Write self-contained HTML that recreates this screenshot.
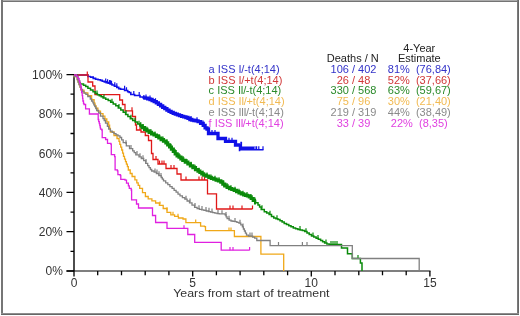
<!DOCTYPE html>
<html><head><meta charset="utf-8"><style>
html,body{margin:0;padding:0;background:#fff;}
body{width:520px;height:316px;overflow:hidden;position:relative;}
svg{position:absolute;left:0;top:0;filter:blur(0.4px);}
text{font-family:"Liberation Sans",sans-serif;}
.ax{font-size:12px;fill:#333;}
.lg{font-size:11px;}
.hd{fill:#222;}
</style></head><body>
<svg width="520" height="316" viewBox="0 0 520 316">
<rect x="0" y="0" width="520" height="316" fill="#fff"/>
<rect x="1" y="0" width="518" height="1" fill="#ababab"/><rect x="1" y="1" width="518" height="1" fill="#747474"/><rect x="1" y="0" width="2" height="315" fill="#767676"/><rect x="517" y="0" width="1" height="315" fill="#7a7a7a"/><rect x="518" y="0" width="1" height="315" fill="#686868"/><rect x="1" y="313" width="518" height="1" fill="#8e8e8e"/><rect x="1" y="314" width="518" height="1" fill="#676767"/>
<defs><clipPath id="c0"><rect x="143" y="0" width="97.30000000000001" height="316"/></clipPath><clipPath id="c1"><rect x="240.3" y="0" width="13.699999999999989" height="316"/></clipPath><clipPath id="c2"><rect x="140" y="0" width="116" height="316"/></clipPath></defs>
<path d="M74,74.6V271" stroke="#000" stroke-width="1.4"/>
<path d="M66.5,271.0H74M70.5,251.4H74M66.5,231.7H74M70.5,212.1H74M66.5,192.4H74M70.5,172.8H74M66.5,153.2H74M70.5,133.5H74M66.5,113.9H74M70.5,94.2H74M66.5,74.6H74" stroke="#000" stroke-width="1.3"/>
<path d="M66.5,271H430.5" stroke="#000" stroke-width="1.2"/>
<path d="M74.0,271V276.5M97.7,271V275.2M121.5,271V275.2M145.2,271V275.2M168.9,271V275.2M192.7,271V276.5M216.4,271V275.2M240.1,271V275.2M263.8,271V275.2M287.6,271V275.2M311.3,271V276.5M335.0,271V275.2M358.8,271V275.2M382.5,271V275.2M406.2,271V275.2M429.9,271V276.5" stroke="#000" stroke-width="1.3"/>
<path d="M74.0,75.0H88.0V76.5V76.5H90.8V76.4V77.1H93.2V77.8V78.4H95.6V79.1V79.3H98.0V79.6V79.8H100.4V80.1V80.4H102.3V80.8V81.2H104.3V81.5V81.9H106.2V82.2V82.6H108.2V83.0V83.3H110.1V83.7V84.0H112.0V84.4V85.0H114.4V85.6V86.2H116.8V86.8V87.4H118.7V88.0V88.6H120.6V89.2H124.6V89.8V90.5H127.7V91.2V91.8H129.2V92.5H130.8V94.5H134.6V95.5H140.0V96.5V97.0H143.0V97.5V97.8H145.3V98.0V98.2H147.7V98.5V98.8H150.0V99.0V99.5H152.1V100.1V100.6H154.2V101.1V101.7H156.3V102.2V102.9H158.4V103.7V104.4H160.6V105.1V105.9H162.7V106.6V107.3H164.8V108.0V108.7H166.9V109.4V110.1H169.0V110.8V111.3H171.1V111.8V112.3H173.2V112.8V113.3H175.3V113.8V114.2H177.4V114.5V114.9H179.5V115.3V115.6H181.6V116.0V116.3H183.7V116.6V116.9H185.9V117.2V117.5H188.0V117.8V118.3H189.9V118.9V119.5H191.8V120.0V120.2H193.9V120.3V120.5H196.0V120.6V120.8H198.1V120.9V121.7H200.6V122.5V123.3H203.2V124.1V125.3H205.1V126.5V127.8H207.0V129.0H208.5V133.5H218.0V138.5H225.5V141.3H235.5V145.0H240.4V149.7H263.5" stroke="#1010e8" stroke-width="1.6" fill="none"/>
<path d="M74.0,75.0H88.0V76.5V76.5H90.8V76.4V77.1H93.2V77.8V78.4H95.6V79.1V79.3H98.0V79.6V79.8H100.4V80.1V80.4H102.3V80.8V81.2H104.3V81.5V81.9H106.2V82.2V82.6H108.2V83.0V83.3H110.1V83.7V84.0H112.0V84.4V85.0H114.4V85.6V86.2H116.8V86.8V87.4H118.7V88.0V88.6H120.6V89.2H124.6V89.8V90.5H127.7V91.2V91.8H129.2V92.5H130.8V94.5H134.6V95.5H140.0V96.5V97.0H143.0V97.5V97.8H145.3V98.0V98.2H147.7V98.5V98.8H150.0V99.0V99.5H152.1V100.1V100.6H154.2V101.1V101.7H156.3V102.2V102.9H158.4V103.7V104.4H160.6V105.1V105.9H162.7V106.6V107.3H164.8V108.0V108.7H166.9V109.4V110.1H169.0V110.8V111.3H171.1V111.8V112.3H173.2V112.8V113.3H175.3V113.8V114.2H177.4V114.5V114.9H179.5V115.3V115.6H181.6V116.0V116.3H183.7V116.6V116.9H185.9V117.2V117.5H188.0V117.8V118.3H189.9V118.9V119.5H191.8V120.0V120.2H193.9V120.3V120.5H196.0V120.6V120.8H198.1V120.9V121.7H200.6V122.5V123.3H203.2V124.1V125.3H205.1V126.5V127.8H207.0V129.0H208.5V133.5H218.0V138.5H225.5V141.3H235.5V145.0H240.4V149.7H263.5" stroke="#1010e8" stroke-width="3.3" fill="none" clip-path="url(#c0)" transform="translate(0,0)"/>
<path d="M74.0,75.0H88.0V76.5V76.5H90.8V76.4V77.1H93.2V77.8V78.4H95.6V79.1V79.3H98.0V79.6V79.8H100.4V80.1V80.4H102.3V80.8V81.2H104.3V81.5V81.9H106.2V82.2V82.6H108.2V83.0V83.3H110.1V83.7V84.0H112.0V84.4V85.0H114.4V85.6V86.2H116.8V86.8V87.4H118.7V88.0V88.6H120.6V89.2H124.6V89.8V90.5H127.7V91.2V91.8H129.2V92.5H130.8V94.5H134.6V95.5H140.0V96.5V97.0H143.0V97.5V97.8H145.3V98.0V98.2H147.7V98.5V98.8H150.0V99.0V99.5H152.1V100.1V100.6H154.2V101.1V101.7H156.3V102.2V102.9H158.4V103.7V104.4H160.6V105.1V105.9H162.7V106.6V107.3H164.8V108.0V108.7H166.9V109.4V110.1H169.0V110.8V111.3H171.1V111.8V112.3H173.2V112.8V113.3H175.3V113.8V114.2H177.4V114.5V114.9H179.5V115.3V115.6H181.6V116.0V116.3H183.7V116.6V116.9H185.9V117.2V117.5H188.0V117.8V118.3H189.9V118.9V119.5H191.8V120.0V120.2H193.9V120.3V120.5H196.0V120.6V120.8H198.1V120.9V121.7H200.6V122.5V123.3H203.2V124.1V125.3H205.1V126.5V127.8H207.0V129.0H208.5V133.5H218.0V138.5H225.5V141.3H235.5V145.0H240.4V149.7H263.5" stroke="#1010e8" stroke-width="3.4" fill="none" clip-path="url(#c1)" transform="translate(0,-1.6)"/>
<path d="M105.7,82.0v-3.5M107.6,82.7v-3.5M109.6,83.5v-3.5M110.5,83.8v-3.5M111.5,84.2v-3.5M114.8,85.8v-3.5M116.8,86.8v-3.5M124.6,89.2v-3.5M126.5,90.7v-3.5M133.8,94.5v-3.5M139.2,95.5v-3.5M146.0,98.1v-3.5M150.0,99.0v-3.5M155.5,101.8v-3.5M191.0,119.5v-3.5M197.0,120.7v-3.5M203.0,124.0v-3.5M212.0,133.5v-3.5M215.0,133.5v-3.5M229.0,141.3v-3.5M232.0,141.3v-3.5M255.0,149.7v-3.5M256.6,149.7v-3.5M258.8,149.7v-3.5M263.0,149.7v-3.5" stroke="#1010e8" stroke-width="1.2" fill="none"/>
<path d="M74.0,75.0H88.0V82.0H92.7V86.0H95.0V94.6H119.7V100.0H122.5V104.5H125.0V110.8H132.5V116.5H135.5V125.0H136.5V130.0H141.0V132.0H145.3V135.5H148.5V140.5H151.5V153.5H153.0V159.5H158.0V164.0H166.0V168.5H177.0V174.0H181.0V180.0H207.5V193.8H216.5V209.0H252.5" stroke="#e01818" stroke-width="1.3" fill="none"/>
<path d="M87.3,75.0v-3.5M132.0,110.8v-3.5M140.0,130.0v-3.5M156.0,159.5v-3.5M159.5,164.0v-3.5M162.0,164.0v-3.5M164.0,164.0v-3.5M171.0,168.5v-3.5M174.0,168.5v-3.5M186.0,180.0v-3.5M199.0,180.0v-3.5M202.0,180.0v-3.5M204.5,180.0v-3.5M230.0,209.0v-3.5M233.0,209.0v-3.5M242.0,209.0v-3.5M252.5,209.0v-3.5" stroke="#e01818" stroke-width="1.2" fill="none"/>
<path d="M74.0,75.0H77.0V76.2H77.8V77.5V78.8H78.5V80.0V80.8H79.4V81.7V82.6H80.3V83.4V84.1H83.5V84.7V85.3H85.7V86.0V86.6H87.9V87.2V88.2H90.5V89.1V90.0H93.0V91.0V91.8H95.2V92.6V93.4H97.4V94.2V94.7H99.3V95.2V95.8H101.2V96.3V96.8H103.1V97.3V97.9H105.7V98.5V99.2H108.2V99.8V100.6H110.7V101.4V102.2H113.2V103.0V104.0H115.8V104.9V105.8H118.3V106.8V107.9H120.8V108.9V110.0H123.2V111.1V112.2H125.6V113.3V114.4H127.9V115.5V116.6H130.3V117.7V118.7H132.7V119.8V120.6H135.1V121.3V122.1H137.4V122.9V123.9H139.8V124.9V125.9H142.2V126.9V127.7H144.6V128.5V129.3H146.9V130.1V130.9H149.2V131.6V132.4H151.6V133.2V133.8H154.0V134.4V135.0H156.4V135.6V136.4H158.8V137.2V138.0H161.1V138.8V139.6H163.5V140.3V141.1H165.9V141.8V142.8H167.7V143.9V144.9H169.6V145.9V147.0H171.4V148.0V149.2H173.3V150.3V151.5H175.2V152.7V153.8H177.1V155.0V155.8H179.0V156.5V157.2H180.9V158.0V158.8H182.8V159.5V160.4H185.3V161.3V162.2H187.9V163.0V163.9H190.4V164.8V165.8H192.9V166.7V167.7H195.5V168.6V169.6H198.0V170.5V171.2H199.9V171.8V172.5H201.8V173.2V173.8H203.7V174.5V175.1H206.2V175.7V176.2H208.8V176.8V177.4H211.3V178.0V178.4H213.7V178.8V179.2H216.1V179.7V180.1H218.4V180.5V180.9H220.8V181.3V182.2H222.8V183.2V184.1H224.7V185.0V185.8H227.1V186.6V187.4H229.5V188.2V188.6H231.8V189.0V189.4H234.2V189.8V190.4H236.6V191.0V191.6H239.0V192.2V192.8H241.3V193.3V193.9H243.7V194.5V194.8H245.6V195.0V195.3H247.4V195.6V195.8H249.3V196.1V196.9H251.2V197.7V198.5H253.2V199.3V200.5H255.6V201.7V202.8H258.0V204.0V205.0H259.6V206.0V207.0H261.2V208.0V209.6H264.3V211.2V211.8H266.7V212.3V212.9H269.1V213.5V214.5H271.5V215.5V216.5H273.8V217.5V217.9H275.9V218.3V218.8H277.9V219.2V219.6H280.0V220.0V220.7H282.1V221.4V222.1H284.2V222.8V223.4H286.5V223.9V224.5H288.8V225.1V225.7H291.0V226.2V226.8H293.3V227.4V227.9H295.6V228.5V228.8H297.9V229.1V229.4H300.1V229.7V229.9H302.4V230.2V230.5H304.7V230.8V231.6H307.0V232.3V233.1H309.2V233.8V234.6H311.5V235.3V235.9H313.8V236.5V237.0H316.1V237.6V238.2H318.3V238.8V239.3H320.6V239.9V240.5H322.6V241.1V241.7H324.6V242.3V242.9H326.9V243.4V244.0H329.2V244.6H341.5V248.0H347.5V253.8H352.3V258.5H360.4V263.0H362.0V271.0" stroke="#0a8a0a" stroke-width="1.5" fill="none"/>
<path d="M74.0,75.0H77.0V76.2H77.8V77.5V78.8H78.5V80.0V80.8H79.4V81.7V82.6H80.3V83.4V84.1H83.5V84.7V85.3H85.7V86.0V86.6H87.9V87.2V88.2H90.5V89.1V90.0H93.0V91.0V91.8H95.2V92.6V93.4H97.4V94.2V94.7H99.3V95.2V95.8H101.2V96.3V96.8H103.1V97.3V97.9H105.7V98.5V99.2H108.2V99.8V100.6H110.7V101.4V102.2H113.2V103.0V104.0H115.8V104.9V105.8H118.3V106.8V107.9H120.8V108.9V110.0H123.2V111.1V112.2H125.6V113.3V114.4H127.9V115.5V116.6H130.3V117.7V118.7H132.7V119.8V120.6H135.1V121.3V122.1H137.4V122.9V123.9H139.8V124.9V125.9H142.2V126.9V127.7H144.6V128.5V129.3H146.9V130.1V130.9H149.2V131.6V132.4H151.6V133.2V133.8H154.0V134.4V135.0H156.4V135.6V136.4H158.8V137.2V138.0H161.1V138.8V139.6H163.5V140.3V141.1H165.9V141.8V142.8H167.7V143.9V144.9H169.6V145.9V147.0H171.4V148.0V149.2H173.3V150.3V151.5H175.2V152.7V153.8H177.1V155.0V155.8H179.0V156.5V157.2H180.9V158.0V158.8H182.8V159.5V160.4H185.3V161.3V162.2H187.9V163.0V163.9H190.4V164.8V165.8H192.9V166.7V167.7H195.5V168.6V169.6H198.0V170.5V171.2H199.9V171.8V172.5H201.8V173.2V173.8H203.7V174.5V175.1H206.2V175.7V176.2H208.8V176.8V177.4H211.3V178.0V178.4H213.7V178.8V179.2H216.1V179.7V180.1H218.4V180.5V180.9H220.8V181.3V182.2H222.8V183.2V184.1H224.7V185.0V185.8H227.1V186.6V187.4H229.5V188.2V188.6H231.8V189.0V189.4H234.2V189.8V190.4H236.6V191.0V191.6H239.0V192.2V192.8H241.3V193.3V193.9H243.7V194.5V194.8H245.6V195.0V195.3H247.4V195.6V195.8H249.3V196.1V196.9H251.2V197.7V198.5H253.2V199.3V200.5H255.6V201.7V202.8H258.0V204.0V205.0H259.6V206.0V207.0H261.2V208.0V209.6H264.3V211.2V211.8H266.7V212.3V212.9H269.1V213.5V214.5H271.5V215.5V216.5H273.8V217.5V217.9H275.9V218.3V218.8H277.9V219.2V219.6H280.0V220.0V220.7H282.1V221.4V222.1H284.2V222.8V223.4H286.5V223.9V224.5H288.8V225.1V225.7H291.0V226.2V226.8H293.3V227.4V227.9H295.6V228.5V228.8H297.9V229.1V229.4H300.1V229.7V229.9H302.4V230.2V230.5H304.7V230.8V231.6H307.0V232.3V233.1H309.2V233.8V234.6H311.5V235.3V235.9H313.8V236.5V237.0H316.1V237.6V238.2H318.3V238.8V239.3H320.6V239.9V240.5H322.6V241.1V241.7H324.6V242.3V242.9H326.9V243.4V244.0H329.2V244.6H341.5V248.0H347.5V253.8H352.3V258.5H360.4V263.0H362.0V271.0" stroke="#0a8a0a" stroke-width="3.2" fill="none" clip-path="url(#c2)" transform="translate(0,0)"/>
<path d="M97.0,93.9v-3.5M104.0,97.7v-3.5M112.0,102.2v-3.5M119.0,107.4v-3.5M126.0,113.7v-3.5M131.0,118.3v-3.5M135.0,121.3v-3.5M139.0,124.2v-3.5M143.0,127.4v-3.5M147.0,130.2v-3.5M151.0,132.8v-3.5M155.0,134.9v-3.5M159.0,137.4v-3.5M163.0,140.0v-3.5M167.0,143.0v-3.5M171.0,147.5v-3.5M175.0,152.4v-3.5M179.0,156.5v-3.5M183.0,159.6v-3.5M187.0,162.4v-3.5M191.0,165.2v-3.5M195.0,168.2v-3.5M199.0,171.2v-3.5M203.0,174.0v-3.5M207.0,176.0v-3.5M211.0,177.9v-3.5M215.0,179.3v-3.5M219.0,180.7v-3.5M223.0,183.4v-3.5M227.0,186.5v-3.5M231.0,188.7v-3.5M235.0,190.2v-3.5M239.0,192.2v-3.5M243.0,194.2v-3.5M247.0,195.4v-3.5M251.0,197.5v-3.5M255.0,201.1v-3.5M262.0,208.8v-3.5M270.0,214.3v-3.5M277.0,218.8v-3.5M300.0,229.6v-3.5M306.0,231.7v-3.5M313.0,236.1v-3.5M318.0,238.6v-3.5M326.0,243.0v-3.5M331.0,244.6v-3.5M333.0,244.6v-3.5M335.0,244.6v-3.5M337.0,244.6v-3.5M358.0,258.5v-3.5" stroke="#0a8a0a" stroke-width="1.2" fill="none"/>
<path d="M74.0,75.0V76.7H77.2V78.3V79.6H78.1V80.8V82.1H79.0V83.4V84.7H80.0V86.0V87.2H81.0V88.5V90.2H84.0V91.8V92.8H87.8V93.7V95.6H91.6V97.5V99.7H94.1V101.9V103.2H95.0V104.5V105.7H96.0V107.0V108.2H97.9V109.5V111.1H100.5V112.7V113.7H103.0V114.6V116.2H104.9V117.7V119.0H106.8V120.3V121.8H108.7V123.4V125.1H109.6V126.7V128.3H110.4V130.0V132.0H114.0V134.0V135.5H117.0V137.0V138.5H119.0V140.0V141.4H119.8V142.8V144.3H120.7V145.7V147.1H121.7V148.6V150.0H122.6V151.4V153.1H123.5V154.7V156.3H124.5V158.0V159.2H125.5V160.4V161.6H126.4V162.8V164.1H127.4V165.4V166.7H128.3V168.0V170.0H130.2V172.0V173.5H132.1V175.0V176.5H134.9V178.0V179.8H136.8V181.7V182.9H138.2V184.1V185.3H139.7V186.5V188.4H142.5V190.3V192.7H145.4V195.0V196.5H148.2V198.0V198.9H151.9V199.9V200.9H155.6V201.8V203.0H159.4V204.2V205.4H163.2V206.6V208.5H167.0V210.4V212.3H170.8V214.2V214.9H174.6V215.6V216.3H178.4V217.0V218.0H183.0V219.0H185.9V222.7H200.6V225.7V226.2H204.5V226.7H205.5V230.6H234.4V236.5H260.9V254.2H283.7V271.0" stroke="#f0a818" stroke-width="1.3" fill="none"/>
<path d="M160.0,204.6v-3.2M167.0,210.4v-3.2M173.0,215.0v-3.2M178.0,216.9v-3.2M195.7,222.7v-3.2M229.0,230.6v-3.2M231.0,230.6v-3.2" stroke="#f0a818" stroke-width="1.2" fill="none"/>
<path d="M74.0,75.0V76.7H77.2V78.3V79.6H78.1V80.8V82.1H79.0V83.4V84.7H80.0V86.0V87.2H81.0V88.5V89.5H82.5V90.5V91.4H84.0V92.4V93.1H85.9V93.7V94.3H87.8V95.0V96.5H90.3V98.1V99.0H91.6V100.0V101.0H92.9V101.9V102.9H93.8V103.8V104.8H94.8V105.7V106.7H95.8V107.6V108.5H96.7V109.5V110.5H98.6V111.4V113.0H100.5V114.6V116.2H103.0V117.7V118.7H104.2V119.6V120.5H105.5V121.5V123.1H107.4V124.7V126.3H108.7V128.0V129.2H110.4V130.4V131.1H112.2V131.7V132.3H114.0V133.0V133.6H116.0V134.2V134.9H118.0V135.5V135.9H120.0V136.3V137.5H121.6V138.7V139.9H123.2V141.1V142.6H126.3V144.2V145.8H129.5V147.4V148.6H132.7V149.8V150.8H134.2V151.8V152.7H135.8V153.7V154.9H139.0V156.1V156.9H141.3V157.7V158.5H143.7V159.3V160.7H145.7V162.1V163.4H147.7V164.8V165.7H149.0V166.7V167.6H150.4V168.5V169.5H151.7V170.4V171.0H154.1V171.6V172.1H156.4V172.7V173.7H158.8V174.7V175.7H161.2V176.7V177.5H162.3V178.3V179.2H163.5V180.0V180.9H165.7V181.9V182.8H167.8V183.8V184.7H169.9V185.6V186.6H172.1V187.5V188.4H174.1V189.4V190.3H176.1V191.2V192.2H178.0V193.1V194.1H180.0V195.0V195.8H182.4V196.7V197.6H184.8V198.4V199.2H187.1V200.1V201.0H189.5V201.8V202.9H192.0V204.0V205.1H194.6V206.2V207.3H197.1V208.4V208.7H199.4V209.0V209.3H201.7V209.6V209.9H203.9V210.1V210.4H206.2V210.7V211.0H208.5V211.3V211.6H210.6V211.8V212.1H212.8V212.3V212.6H214.9V212.9V213.1H217.1V213.4V213.6H219.2V213.9V213.9H221.2V213.9V213.9H223.1V213.9V213.9H225.1V213.9V214.9H226.1V215.9V216.8H227.1V217.8V218.6H229.1V219.3V220.1H231.0V220.8V221.0H233.0V221.1V221.3H234.9V221.5V221.6H236.9V221.8V222.3H238.9V222.8V223.2H240.8V223.7V224.8H242.4V225.9V226.9H243.4V227.9V229.0H244.4V230.0V231.0H245.4V232.1V233.1H246.5V234.1V235.1H248.5V236.2H252.6V237.2H254.7V238.2H256.8V240.5H270.1V245.6H352.3V258.5H419.2V271.0" stroke="#808080" stroke-width="1.3" fill="none"/>
<path d="M126.0,143.9v-3.6M131.0,148.5v-3.6M137.0,154.6v-3.6M140.0,156.8v-3.6M143.0,158.8v-3.6M146.0,162.5v-3.6M155.0,172.0v-3.6M157.0,173.2v-3.6M159.0,174.9v-3.6M161.0,176.5v-3.6M186.0,199.3v-3.6M190.0,202.2v-3.6M195.0,206.6v-3.6M199.0,208.9v-3.6M202.0,209.6v-3.6M206.0,210.7v-3.6M209.0,211.4v-3.6M212.0,212.2v-3.6M218.0,213.6v-3.6M222.0,213.9v-3.6M226.0,215.7v-3.6M229.0,219.3v-3.6M235.0,221.5v-3.6M240.0,223.3v-3.6M243.0,227.1v-3.6M250.0,236.2v-3.6M252.0,236.2v-3.6M278.5,245.6v-3.6M302.4,245.6v-3.6M307.0,245.6v-3.6" stroke="#808080" stroke-width="1.2" fill="none"/>
<path d="M74.0,75.0H76.5V76.2H77.8V77.3V78.4H79.0V79.6V80.7H79.7V81.7V82.8H80.3V83.8V84.8H81.0V85.9V87.2H81.3V88.5V89.7H81.6V91.0V92.6H82.2V94.2V95.6H82.6V97.0V98.4H82.9V99.8V101.0H83.5V102.2V103.3H84.0V104.5H85.6V108.9H89.4V114.0H98.2V118.4V119.5H98.7V120.5V121.6H99.3V122.6V123.7H99.8V124.7V125.7H100.2V126.6V127.5H100.5V128.5V129.2H101.8V130.0H102.2V137.6H105.6V139.5H107.5V143.3H110.8V144.2H111.3V154.7H114.6V156.6H115.1V169.8H117.4V170.8H117.9V174.6H120.3V175.5H120.8V179.3H125.0V180.2H126.5V183.1H128.4V185.0V185.9H129.3V186.9V188.4H131.2V190.0H131.6V199.9H136.5V204.0H138.5V208.0H152.5V215.5H155.6V222.5H167.0V228.4H187.8V234.5H194.7V242.4H221.2V250.2H249.6" stroke="#e020e0" stroke-width="1.3" fill="none"/>
<path d="M184.0,228.4v-3.2M230.0,250.2v-3.2M233.0,250.2v-3.2M249.6,250.2v-3.2" stroke="#e020e0" stroke-width="1.2" fill="none"/>
<text x="62.8" y="275.3" text-anchor="end" class="ax">0%</text>
<text x="62.8" y="236.0" text-anchor="end" class="ax">20%</text>
<text x="62.8" y="196.7" text-anchor="end" class="ax">40%</text>
<text x="62.8" y="157.5" text-anchor="end" class="ax">60%</text>
<text x="62.8" y="118.2" text-anchor="end" class="ax">80%</text>
<text x="62.8" y="78.9" text-anchor="end" class="ax">100%</text>
<text x="74.0" y="287.2" text-anchor="middle" class="ax">0</text>
<text x="192.7" y="287.2" text-anchor="middle" class="ax">5</text>
<text x="311.3" y="287.2" text-anchor="middle" class="ax">10</text>
<text x="429.9" y="287.2" text-anchor="middle" class="ax">15</text>
<text x="173.2" y="296.7" class="ax" style="font-size:11.4px" textLength="156.3" lengthAdjust="spacingAndGlyphs">Years from start of treatment</text>
<text x="419.3" y="51.6" text-anchor="middle" class="lg hd">4-Year</text>
<text x="352.8" y="62.3" text-anchor="middle" class="lg hd">Deaths / N</text>
<text x="419.3" y="62.3" text-anchor="middle" class="lg hd">Estimate</text>
<text x="208.6" y="73.0" fill="#3232c8" class="lg">a ISS <tspan letter-spacing="-0.25">I/</tspan>-t(4;14)</text>
<text x="353.5" y="73.0" fill="#3232c8" text-anchor="middle" class="lg">106 / 402</text>
<text x="419.3" y="73.0" fill="#3232c8" text-anchor="middle" class="lg" xml:space="preserve" style="white-space:pre">81%  (76,84)</text>
<text x="208.6" y="83.7" fill="#d03838" class="lg">b ISS <tspan letter-spacing="-0.25">I/</tspan>+t(4;14)</text>
<text x="353.5" y="83.7" fill="#d03838" text-anchor="middle" class="lg">26 / 48</text>
<text x="419.3" y="83.7" fill="#d03838" text-anchor="middle" class="lg" xml:space="preserve" style="white-space:pre">52%  (37,66)</text>
<text x="208.6" y="94.4" fill="#2a8a2a" class="lg">c ISS <tspan letter-spacing="-0.45">II/</tspan>-t(4;14)</text>
<text x="353.5" y="94.4" fill="#2a8a2a" text-anchor="middle" class="lg">330 / 568</text>
<text x="419.3" y="94.4" fill="#2a8a2a" text-anchor="middle" class="lg" xml:space="preserve" style="white-space:pre">63%  (59,67)</text>
<text x="208.6" y="105.1" fill="#f2ba52" class="lg">d ISS <tspan letter-spacing="-0.45">II/</tspan>+t(4;14)</text>
<text x="353.5" y="105.1" fill="#f2ba52" text-anchor="middle" class="lg">75 / 96</text>
<text x="419.3" y="105.1" fill="#f2ba52" text-anchor="middle" class="lg" xml:space="preserve" style="white-space:pre">30%  (21,40)</text>
<text x="208.6" y="115.8" fill="#8a8a8a" class="lg">e ISS <tspan letter-spacing="-0.6">III/</tspan>-t(4;14)</text>
<text x="353.5" y="115.8" fill="#8a8a8a" text-anchor="middle" class="lg">219 / 319</text>
<text x="419.3" y="115.8" fill="#8a8a8a" text-anchor="middle" class="lg" xml:space="preserve" style="white-space:pre">44%  (38,49)</text>
<text x="208.6" y="126.5" fill="#e040e0" class="lg">f ISS <tspan letter-spacing="-0.6">III/</tspan>+t(4;14)</text>
<text x="353.5" y="126.5" fill="#e040e0" text-anchor="middle" class="lg">33 / 39</text>
<text x="419.3" y="126.5" fill="#e040e0" text-anchor="middle" class="lg" xml:space="preserve" style="white-space:pre">22%  (8,35)</text>
</svg>
</body></html>
